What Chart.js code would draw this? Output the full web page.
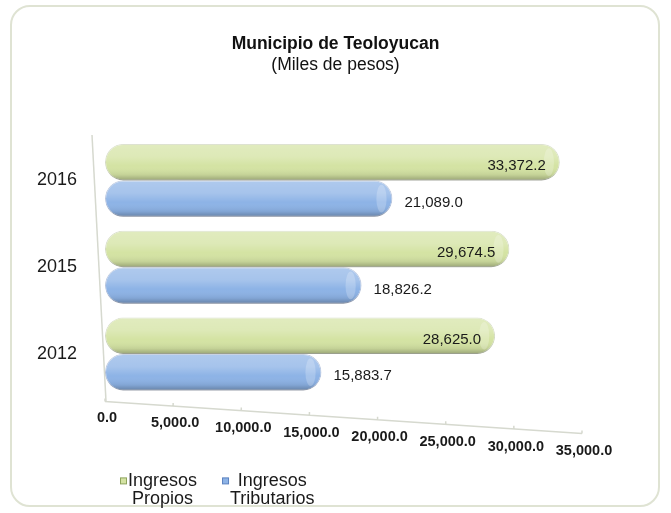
<!DOCTYPE html>
<html>
<head>
<meta charset="utf-8">
<script src="https://cdn.jsdelivr.net/npm/chart.js@4"></script>
<style>
  html, body { margin: 0; padding: 0; background: #fff; }
  #wrap { position: relative; width: 671px; height: 513px; }
  #frame {
    position: absolute; left: 10px; top: 5px; width: 650px; height: 502px;
    border: 2px solid #dfe3d3; border-radius: 20px; box-sizing: border-box;
  }
  canvas { position: absolute; left: 0; top: 0; }
</style>
</head>
<body>
<div id="wrap">
  <div id="frame"></div>
  <canvas id="ingresosChart" width="671" height="513"></canvas>
</div>
<script>
const years = ["2016", "2015", "2012"];
const propios = [33372.2, 29674.5, 28625.0];
const tributarios = [21089.0, 18826.2, 15883.7];
const seriesNames = [["Ingresos", "Propios"], ["Ingresos", "Tributarios"]];

const FONT = "'Liberation Sans', Arial, sans-serif";
const fmt = v => v.toLocaleString("en-US", { minimumFractionDigits: 1, maximumFractionDigits: 1 });

// cylinder look: light top, dark lower edge
const cylinderShade = {
  id: "cylinderShade",
  afterDatasetDraw(chart, args) {
    const ctx = chart.ctx;
    args.meta.data.forEach(bar => {
      const left = Math.min(bar.base, bar.x);
      const right = Math.max(bar.base, bar.x);
      const top = bar.y - bar.height / 2;
      const h = bar.height;
      const g = ctx.createLinearGradient(0, top, 0, top + h);
      g.addColorStop(0, "rgba(255,255,255,0.30)");
      g.addColorStop(0.35, "rgba(255,255,255,0.22)");
      g.addColorStop(0.6, "rgba(255,255,255,0)");
      g.addColorStop(0.85, "rgba(0,0,0,0.08)");
      g.addColorStop(1, "rgba(0,0,0,0.28)");
      ctx.save();
      ctx.fillStyle = g;
      ctx.beginPath();
      ctx.roundRect(left, top, right - left, h, h / 2);
      ctx.fill();
      ctx.fillStyle = "rgba(255,255,255,0.22)";
      ctx.beginPath();
      ctx.ellipse(right - h * 0.3, bar.y, h * 0.14, h * 0.38, 0, 0, Math.PI * 2);
      ctx.fill();
      ctx.restore();
    });
  }
};

const decorations = {
  id: "decorations",
  beforeDatasetsDraw(chart) {
    const { ctx, chartArea, scales } = chart;
    const xs = scales.x;
    const b = chartArea.bottom;
    ctx.save();
    ctx.strokeStyle = "#d6d9cf";
    ctx.lineWidth = 1.5;
    // back wall edge
    ctx.beginPath();
    ctx.moveTo(chartArea.left - 13, chartArea.top - 2);
    ctx.lineTo(chartArea.left + 1, b + 4);
    ctx.stroke();
    // slanted floor axis with tick marks
    const x0 = xs.getPixelForValue(xs.min);
    const x1 = xs.getPixelForValue(xs.max);
    ctx.beginPath();
    ctx.moveTo(x0, b + 4);
    ctx.lineTo(x1, b + 36);
    xs.ticks.forEach(t => {
      const px = xs.getPixelForValue(t.value);
      const py = b + 4 + (px - x0) / (x1 - x0) * 32;
      ctx.moveTo(px, py - 3);
      ctx.lineTo(px, py);
    });
    ctx.stroke();
    ctx.restore();
  },
  afterDraw(chart) {
    const { ctx, chartArea, scales } = chart;
    const xs = scales.x;
    const b = chartArea.bottom;
    ctx.save();
    // x tick labels stepping down like the 3D floor
    ctx.font = "bold 14.5px " + FONT;
    ctx.fillStyle = "#1a1a1a";
    ctx.textAlign = "center";
    ctx.textBaseline = "middle";
    xs.ticks.forEach(t => {
      const px = xs.getPixelForValue(t.value);
      const frac = (t.value - xs.min) / (xs.max - xs.min);
      ctx.fillText(fmt(t.value), px + 2, b + 21 + frac * 33);
    });
    // value labels
    ctx.font = "15px " + FONT;
    chart.data.datasets.forEach((ds, di) => {
      chart.getDatasetMeta(di).data.forEach((bar, i) => {
        const txt = fmt(ds.data[i]);
        if (di === 0) {
          ctx.textAlign = "right";
          ctx.fillText(txt, bar.x - 14, bar.y + 4);
        } else {
          ctx.textAlign = "left";
          ctx.fillText(txt, bar.x + 12, bar.y + 4);
        }
      });
    });
    // legend (two-line labels)
    ctx.font = "18px " + FONT;
    let lx = chartArea.left + 15;
    const ly = b + 84;
    chart.data.datasets.forEach(ds => {
      const lines = ds.label;
      const widths = lines.map(s => ctx.measureText(s).width);
      const blockW = Math.max(...widths);
      ctx.fillStyle = ds.backgroundColor;
      ctx.strokeStyle = ds.legendEdge;
      ctx.lineWidth = 1;
      ctx.fillRect(lx + 0.5, ly - 3.5, 6, 6);
      ctx.strokeRect(lx + 0.5, ly - 3.5, 6, 6);
      const tx = lx + 8;
      ctx.fillStyle = "#1a1a1a";
      ctx.textAlign = "center";
      lines.forEach((s, k) => ctx.fillText(s, tx + blockW / 2, ly + k * 18));
      lx = tx + blockW + 25;
    });
    ctx.restore();
  }
};

new Chart(document.getElementById("ingresosChart"), {
  type: "bar",
  data: {
    labels: years,
    datasets: [
      {
        label: seriesNames[0],
        data: propios,
        backgroundColor: "#d4e3a3",
        borderColor: "rgba(120,140,70,0.35)",
        legendEdge: "#8ea45c",
        borderWidth: 1,
        borderRadius: 18,
        borderSkipped: false,
        categoryPercentage: 0.84,
        barPercentage: 1.0
      },
      {
        label: seriesNames[1],
        data: tributarios,
        backgroundColor: "#8db3e6",
        borderColor: "rgba(60,95,160,0.4)",
        legendEdge: "#5b82c0",
        borderWidth: 1,
        borderRadius: 18,
        borderSkipped: false,
        categoryPercentage: 0.84,
        barPercentage: 1.0
      }
    ]
  },
  options: {
    indexAxis: "y",
    responsive: false,
    animation: false,
    layout: { padding: { top: 34, left: 30, right: 30, bottom: 92 } },
    scales: {
      x: {
        min: 0,
        max: 35000,
        ticks: {
          stepSize: 5000,
          color: "rgba(0,0,0,0)",
          padding: 0,
          font: { size: 13, weight: "bold" },
          callback: v => fmt(v)
        },
        grid: { display: false },
        border: { display: false }
      },
      y: {
        afterFit: scale => { scale.width = 75; },
        ticks: {
          color: "#1a1a1a",
          padding: 20,
          font: { size: 18, family: FONT }
        },
        grid: { display: false },
        border: { display: false }
      },
      // empty right-hand axis keeps the plot clear of the right edge
      yRight: {
        type: "category",
        position: "right",
        afterFit: scale => { scale.width = 59; },
        ticks: { display: false },
        grid: { display: false },
        border: { display: false }
      }
    },
    plugins: {
      title: {
        display: true,
        text: "Municipio de Teoloyucan",
        color: "#111",
        font: { size: 17.5, weight: "bold", family: FONT },
        padding: { top: 0, bottom: 0 }
      },
      subtitle: {
        display: true,
        text: "(Miles de pesos)",
        color: "#111",
        font: { size: 17.5, family: FONT },
        padding: { top: 0, bottom: 61 }
      },
      legend: { display: false },
      tooltip: { enabled: false }
    }
  },
  plugins: [cylinderShade, decorations]
});
</script>
</body>
</html>
